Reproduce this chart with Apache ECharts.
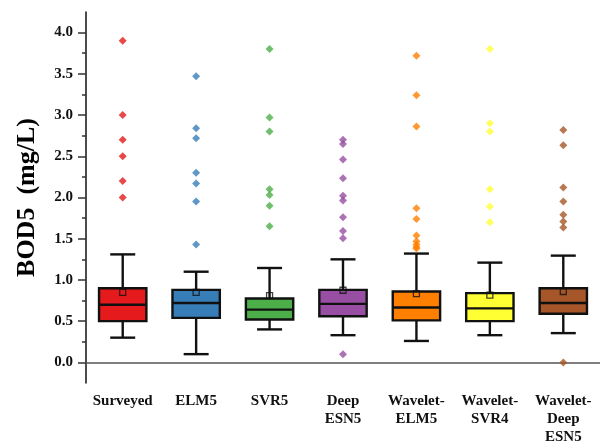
<!DOCTYPE html>
<html>
<head>
<meta charset="utf-8">
<script src="https://cdn.jsdelivr.net/npm/echarts@6/dist/echarts.min.js"></script>
<style>html,body{margin:0;padding:0;background:#fff}#c{width:600px;height:446px}</style>
</head>
<body>
<div id="c"></div>
<script>
var categories = ['Surveyed','ELM5','SVR5','Deep\nESN5','Wavelet-\nELM5','Wavelet-\nSVR4','Wavelet-\nDeep\nESN5'];
var colors = ['#e41a1c','#377eb8','#4daf4a','#984ea3','#ff7f00','#ffff33','#a65628'];
var whiskerLow  = [0.30, 0.10, 0.40, 0.33, 0.26, 0.33, 0.355];
var q1          = [0.50, 0.54, 0.52, 0.56, 0.51, 0.50, 0.59];
var median      = [0.70, 0.72, 0.64, 0.71, 0.665, 0.655, 0.72];
var q3          = [0.90, 0.88, 0.775, 0.88, 0.86, 0.84, 0.90];
var whiskerHigh = [1.31, 1.10, 1.145, 1.25, 1.32, 1.21, 1.295];
var means       = [0.85, 0.85, 0.81, 0.875, 0.835, 0.815, 0.86];
var outSurveyed = [3.90, 3.00, 2.70, 2.50, 2.20, 2.00];
var outELM5     = [3.47, 2.84, 2.72, 2.30, 2.17, 1.95, 1.43];
var outSVR5     = [3.80, 2.97, 2.80, 2.10, 2.03, 1.90, 1.65];
var outDeepESN5 = [2.70, 2.65, 2.46, 2.235, 2.02, 1.965, 1.76, 1.595, 1.505, 0.10];
var outWELM5    = [3.72, 3.24, 2.86, 1.87, 1.74, 1.54, 1.47, 1.43, 1.40, 1.38];
var outWSVR4    = [3.80, 2.90, 2.80, 2.10, 1.89, 1.70];
var outWDeepESN5= [2.82, 2.635, 2.12, 1.95, 1.79, 1.71, 1.635, 0.00];
var yLabelTicks = [0, 0.5, 1.0, 1.5, 2.0, 2.5, 3.0, 3.5, 4.0];
var yMinorTicks = [0.25, 0.75, 1.25, 1.75, 2.25, 2.75, 3.25, 3.75];

var outliers = [outSurveyed, outELM5, outSVR5, outDeepESN5, outWELM5, outWSVR4, outWDeepESN5];
var boxData = categories.map(function(c, i){ return [i, whiskerLow[i], q1[i], median[i], q3[i], whiskerHigh[i]]; });
var outData = [];
outliers.forEach(function(arr, i){ arr.forEach(function(v){ outData.push([i, v]); }); });
var meanData = means.map(function(m, i){ return [i, m]; });

var serif = '"Liberation Serif", "DejaVu Serif", serif';
var chart = echarts.init(document.getElementById('c'));
chart.setOption({
  animation: false,
  grid: {left: 86, right: -7, top: 12, bottom: 62},
  xAxis: {
    type: 'category', data: categories,
    axisLine: {lineStyle: {color: '#555', width: 1.5}},
    axisTick: {alignWithLabel: true, length: 4, lineStyle: {color: '#555', width: 1.5}},
    axisLabel: {margin: 9, fontFamily: serif, fontWeight: 'bold', fontSize: 15, color: '#111', lineHeight: 18, interval: 0},
    splitLine: {show: false}
  },
  yAxis: [{
    type: 'value', min: -0.25, max: 4.25,
    axisLine: {show: true, lineStyle: {color: '#111', width: 1.5}},
    axisTick: {show: true, customValues: yLabelTicks, length: 8, lineStyle: {color: '#333', width: 1.5}},
    axisLabel: {customValues: yLabelTicks, margin: 13, fontFamily: serif, fontWeight: 'bold', fontSize: 15, color: '#111',
      formatter: function(v){ return v.toFixed(1); }},
    splitLine: {show: false},
    name: 'BOD5  (mg/L)', nameLocation: 'middle', nameGap: 46,
    nameTextStyle: {fontFamily: serif, fontWeight: 'bold', fontSize: 26, color: '#000'}
  }, {
    type: 'value', min: -0.25, max: 4.25, position: 'left',
    axisLine: {show: false},
    axisTick: {show: true, customValues: yMinorTicks, length: 4, lineStyle: {color: '#333', width: 1.5}},
    axisLabel: {show: false},
    splitLine: {show: false}
  }],
  series: [{
    type: 'custom',
    data: boxData,
    z: 2,
    renderItem: function(params, api){
      var i = api.value(0);
      var bw = api.size([1, 0])[0] * 0.645;
      var cw = 25;
      var pLo = api.coord([i, api.value(1)]);
      var pQ1 = api.coord([i, api.value(2)]);
      var pMd = api.coord([i, api.value(3)]);
      var pQ3 = api.coord([i, api.value(4)]);
      var pHi = api.coord([i, api.value(5)]);
      var x = pQ1[0];
      var ls = {stroke: '#111', lineWidth: 2.4};
      return {type: 'group', children: [
        {type: 'line', shape: {x1: x, y1: pHi[1], x2: x, y2: pQ3[1]}, style: ls},
        {type: 'line', shape: {x1: x, y1: pQ1[1], x2: x, y2: pLo[1]}, style: ls},
        {type: 'line', shape: {x1: x - cw/2, y1: pHi[1], x2: x + cw/2, y2: pHi[1]}, style: ls},
        {type: 'line', shape: {x1: x - cw/2, y1: pLo[1], x2: x + cw/2, y2: pLo[1]}, style: ls},
        {type: 'rect', shape: {x: x - bw/2, y: pQ3[1], width: bw, height: pQ1[1] - pQ3[1]},
          style: {fill: colors[i], stroke: '#111', lineWidth: 2.4}},
        {type: 'line', shape: {x1: x - bw/2, y1: pMd[1], x2: x + bw/2, y2: pMd[1]}, style: ls}
      ]};
    }
  }, {
    type: 'scatter', data: outData, symbol: 'diamond', symbolSize: 8, z: 3,
    itemStyle: {color: function(p){ return colors[p.value[0]]; }}
  }, {
    type: 'scatter', data: meanData, symbol: 'rect', symbolSize: 6, z: 4,
    itemStyle: {color: 'rgba(0,0,0,0)', borderColor: '#111', borderWidth: 1.3}
  }]
});
</script>
</body>
</html>
